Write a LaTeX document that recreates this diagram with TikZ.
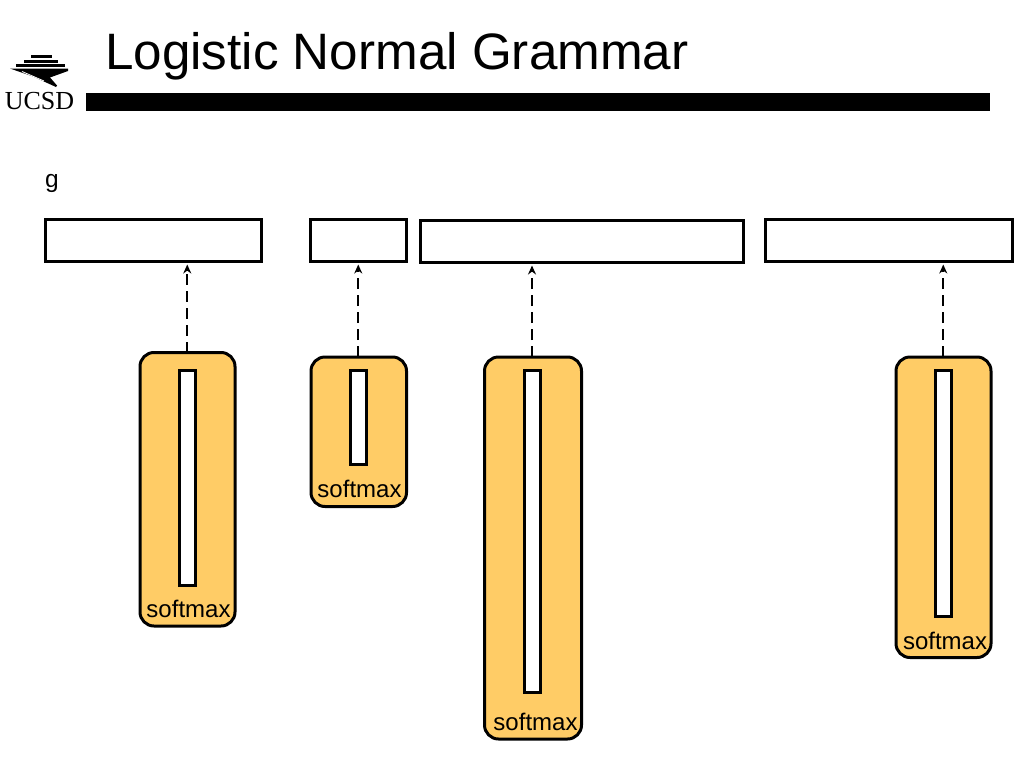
\documentclass[tikz,border=0pt]{standalone}
\usepackage{fontspec}
\setmainfont{Liberation Sans}
\newfontfamily\logofont{Liberation Serif}
\usetikzlibrary{arrows.meta,calc}
\definecolor{cardfill}{RGB}{255,204,102}
\tikzset{
  px/.style={x=1pt,y=-1pt},
  slot/.style={draw=black,fill=white,line width=3pt,inner sep=0pt,outer sep=0pt},
  card/.style={draw=black,fill=cardfill,line width=3pt,rounded corners=14pt,inner sep=0pt,outer sep=0pt},
  bar/.style={draw=black,fill=white,line width=3pt,inner sep=0pt,outer sep=0pt},
  lbl/.style={inner sep=0pt,font=\fontsize{24}{28}\selectfont},
  link/.style={-{Stealth[length=9pt,width=8pt]},line width=1.7pt,dash pattern=on 11pt off 6pt,shorten >=3pt}
}
\newcommand{\rectnode}[6]{% style, name, x0, y0, x1, y1
  \path let \n1={#5-#3},\n2={#6-#4} in
    node[#1,minimum width=\n1 pt,minimum height=\n2 pt] (#2) at ({(#3+#5)/2},{(#4+#6)/2}) {};
}
\begin{document}
\begin{tikzpicture}[px]
\useasboundingbox (0,0) rectangle (1024,768);
\fill[white] (0,0) rectangle (1024,768);
% header
\node[anchor=base west,inner sep=0pt,font=\fontsize{51.2}{56}\selectfont] (title) at (105,70) {Logistic Normal Grammar};
\node[fill=black,inner sep=0pt,outer sep=0pt,minimum width=904pt,minimum height=18pt] (rule) at (538,102) {};
% logo
\fill[black] (31,55) rectangle (52,58);
\fill[black] (24,60) rectangle (58,63);
\fill[black] (16,64) rectangle (65,67);
\fill[black] (10,68.5) -- (68,68.5) -- (68,71) -- (50,77.5) -- (57,85.5) -- (56,87) -- (33,76.5) -- cycle;
\draw[white,line width=0.8pt] (22,71.5) -- (44,81);
\node[anchor=base,inner sep=0pt,font=\logofont\fontsize{26}{28}\selectfont] (logo) at (39.5,109.5) {UCSD};
% label
\node[anchor=base west,inner sep=0pt,font=\fontsize{24.5}{28}\selectfont] (g) at (45,187) {g};
% top slots
\rectnode{slot}{s1}{45}{219}{261.5}{261.5}
\rectnode{slot}{s2}{310.5}{219}{406.5}{261.5}
\rectnode{slot}{s3}{420}{220}{743.5}{262.5}
\rectnode{slot}{s4}{765}{219}{1012.5}{261.5}
% cards
\rectnode{card}{c1}{140}{352.5}{235}{626}
\rectnode{card}{c2}{311}{357}{406.5}{506.5}
\rectnode{card}{c3}{484.5}{357}{581.5}{739}
\rectnode{card}{c4}{896}{357}{991}{657.5}
% bars
\rectnode{bar}{b1}{179}{370}{195.5}{585.5}
\rectnode{bar}{b2}{350}{370}{366.5}{464.5}
\rectnode{bar}{b3}{524}{370}{540}{692.5}
\rectnode{bar}{b4}{935}{370}{951.5}{616.5}
% labels
\node[lbl,anchor=base] (l1) at (188.5,617) {softmax};
\node[lbl,anchor=base] (l2) at (359.5,497) {softmax};
\node[lbl,anchor=base] (l3) at (535.5,730) {softmax};
\node[lbl,anchor=base] (l4) at (945,649) {softmax};
% connectors
\draw[link] (b1.center |- c1.north) -- (b1.center |- s1.south);
\draw[link] (b2.center |- c2.north) -- (b2.center |- s2.south);
\draw[link] (b3.center |- c3.north) -- (b3.center |- s3.south);
\draw[link] (b4.center |- c4.north) -- (b4.center |- s4.south);
\end{tikzpicture}
\end{document}
